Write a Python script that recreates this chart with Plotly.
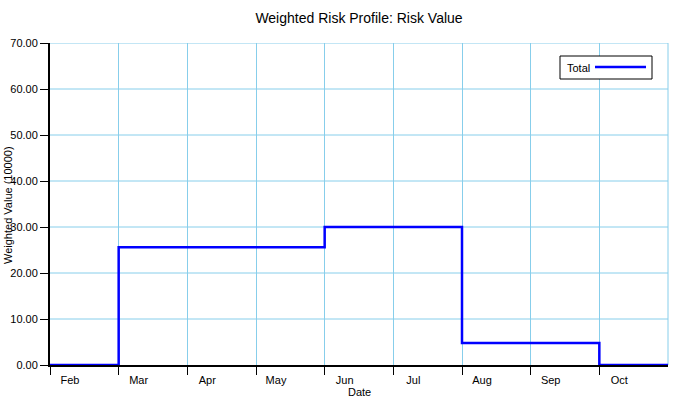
import plotly.graph_objects as go

months = ["Feb", "Mar", "Apr", "May", "Jun", "Jul", "Aug", "Sep", "Oct"]
month_index = list(range(len(months) + 1))
total_values = [0.0, 25.6, 25.6, 25.6, 30.0, 30.0, 4.8, 4.8, 0.0, 0.0]
y_ticks = [0, 10, 20, 30, 40, 50, 60, 70]
series_name = "Total"
line_color = "#0000FF"
grid_color = "#87CEEB"

W, H = 680, 399
L, R, T, B = 50, 12, 43, 34
pw, ph = W - L - R, H - T - B


def px_x(p):
    return (p - L) / pw


def px_y(p):
    return (H - B - p) / ph


fig = go.Figure()
fig.add_trace(go.Scatter(
    x=month_index, y=total_values, mode="lines", line_shape="hv",
    line=dict(color=line_color, width=2.5), name=series_name, showlegend=False,
    hoverinfo="skip",
))

font = "Liberation Sans, Arial, sans-serif"
fig.update_layout(
    width=W, height=H,
    paper_bgcolor="white", plot_bgcolor="white",
    margin=dict(l=L, r=R, t=T, b=B),
    font=dict(family=font, size=11, color="black"),
    title=dict(text="Weighted Risk Profile: Risk Value", xref="paper", x=0.5, xanchor="center",
               yref="container", y=1 - 18 / H, yanchor="middle",
               font=dict(size=14, family=font, color="black")),
    showlegend=False,
    xaxis=dict(
        range=[0, 9], tickmode="array", tickvals=month_index[:-1], ticktext=months,
        showgrid=True, gridcolor=grid_color, gridwidth=1,
        showline=True, linecolor="black", linewidth=2, mirror=False,
        ticks="outside", ticklen=8, tickcolor="black", tickwidth=1,
        ticklabelshift=20, ticklabelstandoff=-4, zeroline=False, automargin=False,
    ),
    yaxis=dict(
        range=[0, 70], tickmode="array", tickvals=y_ticks, tickformat=".2f",
        showgrid=False,
        showline=True, linecolor="black", linewidth=2,
        ticks="outside", ticklen=8, tickcolor="black", tickwidth=1,
        zeroline=False, automargin=False,
    ),
)
# horizontal grid lines at the y tick values
for v in y_ticks[1:]:
    fig.add_shape(type="line", xref="paper", yref="y", x0=0, x1=1, y0=v, y1=v,
                  line=dict(color=grid_color, width=1), layer="below")
fig.add_shape(type="line", xref="paper", yref="paper", x0=1, x1=1, y0=0, y1=1,
              line=dict(color=grid_color, width=1), layer="below")

# axis titles
fig.add_annotation(text="Weighted Value (10000)", textangle=-90, xref="paper", yref="paper",
                   x=px_x(8), y=px_y(205), xanchor="center", yanchor="middle", showarrow=False,
                   font=dict(size=11, family=font, color="black"))
fig.add_annotation(text="Date", xref="paper", yref="paper",
                   x=px_x(359), y=px_y(392), xanchor="center", yanchor="middle", showarrow=False,
                   font=dict(size=11, family=font, color="black"))

# legend box (text before line sample, as in the reference)
fig.add_shape(type="rect", xref="paper", yref="paper",
              x0=px_x(560), x1=px_x(652), y0=px_y(79), y1=px_y(56),
              line=dict(color="black", width=1), fillcolor="white")
fig.add_annotation(text=series_name, xref="paper", yref="paper", x=px_x(565), y=px_y(67.5),
                   xanchor="left", yanchor="middle", showarrow=False,
                   font=dict(size=11, family=font, color="black"))
fig.add_shape(type="line", xref="paper", yref="paper", x0=px_x(595), x1=px_x(646),
              y0=px_y(67), y1=px_y(67), line=dict(color=line_color, width=2.5))

fig.write_html("out.html", config={"displayModeBar": False, "staticPlot": True},
               post_script="document.body.style.margin='0';document.body.style.overflow='hidden';")
